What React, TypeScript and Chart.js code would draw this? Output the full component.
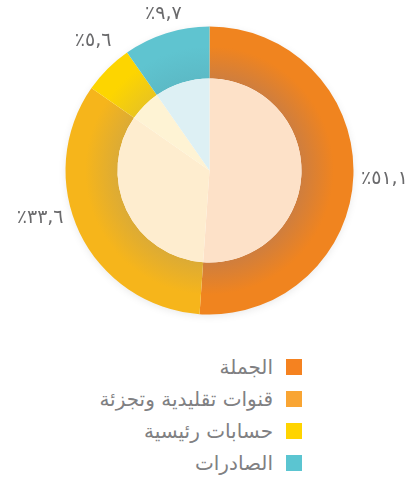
import React, { useEffect, useRef } from "react";
import { Chart, registerables } from "chart.js";

Chart.register(...registerables);

// ---- data ----
const categories = ["الجملة", "قنوات تقليدية وتجزئة", "حسابات رئيسية", "الصادرات"];
const shares = [51.1, 33.6, 5.6, 9.7];
const shareLabels = ["٪٥١,١", "٪٣٣,٦", "٪٥,٦", "٪٩,٧"];

// ---- styles ----
const legendColors = ["#F58220", "#F9A533", "#FFD400", "#5BC5D1"];
const ringColors = ["#F0841F", "#F6B51B", "#FDD500", "#5FC4D0"];
const ringShade = ["#CF7E3E", "#DCAB35", "#EAC51E", "#5CBAC6"];
const innerColors = ["#FDE1C8", "#FEEDCF", "#FEF3D4", "#DDF0F4"];
const labelNudge: [number, number][] = [
  [9, 2.5],
  [-19.6, -24.4],
  [1, -12.3],
  [3.6, 1.6],
];

const ringGradient = (ctx: any) => {
  const chart = ctx.chart;
  const area = chart.chartArea;
  const i = ctx.dataIndex;
  if (!area) return ringColors[i];
  const ctrl: any = chart.getDatasetMeta(0).controller;
  const inner = ctrl && ctrl.innerRadius ? ctrl.innerRadius : 92;
  const outer = ctrl && ctrl.outerRadius ? ctrl.outerRadius : 144;
  const cx = (area.left + area.right) / 2;
  const cy = (area.top + area.bottom) / 2;
  const g = chart.ctx.createRadialGradient(cx, cy, inner, cx, cy, outer);
  g.addColorStop(0, ringShade[i]);
  g.addColorStop(0.62, ringColors[i]);
  g.addColorStop(1, ringColors[i]);
  return g;
};

const haloPlugin = {
  id: "halo",
  beforeDatasetsDraw(chart: any) {
    const meta = chart.getDatasetMeta(0);
    const arc = meta.data[0];
    if (!arc) return;
    const { x, y, outerRadius } = arc.getProps(["x", "y", "outerRadius"], true);
    const c = chart.ctx;
    c.save();
    c.shadowColor = "rgba(0,0,0,0.10)";
    c.shadowBlur = 8;
    c.shadowOffsetY = 2;
    c.fillStyle = "#ffffff";
    c.beginPath();
    c.arc(x, y, outerRadius - 1, 0, Math.PI * 2);
    c.fill();
    c.restore();
  },
};

const labelPlugin = {
  id: "shareLabels",
  afterDatasetsDraw(chart: any) {
    const meta = chart.getDatasetMeta(0);
    const c = chart.ctx;
    c.save();
    c.font = "19px 'DejaVu Sans', sans-serif";
    c.fillStyle = "#6A6A6C";
    c.textAlign = "center";
    c.textBaseline = "middle";
    c.direction = "ltr";
    meta.data.forEach((arc: any, i: number) => {
      const { x, y, startAngle, endAngle, outerRadius } = arc.getProps(
        ["x", "y", "startAngle", "endAngle", "outerRadius"],
        true
      );
      const mid = (startAngle + endAngle) / 2;
      const r = outerRadius + 22;
      const px = x + Math.cos(mid) * r + labelNudge[i][0];
      const py = y + Math.sin(mid) * r + labelNudge[i][1];
      c.fillText(shareLabels[i], px, py);
    });
    c.restore();
  },
};

export default function App() {
  const ref = useRef<HTMLCanvasElement | null>(null);

  useEffect(() => {
    if (!ref.current) return;
    const chart = new Chart(ref.current, {
      type: "doughnut",
      data: {
        labels: categories,
        datasets: [
          {
            data: shares,
            backgroundColor: ringGradient as any,
            borderWidth: 0,
            weight: 52,
            order: 1,
          } as any,
          {
            data: shares,
            backgroundColor: innerColors,
            borderWidth: 0,
            weight: 92,
            order: 0,
          } as any,
        ],
      },
      options: {
        responsive: false,
        animation: false,
        cutout: 0,
        radius: 144,
        layout: { padding: { left: 10, right: 0, top: 1, bottom: 0 } },
        plugins: {
          legend: { display: false },
          tooltip: { enabled: false },
        },
      } as any,
      plugins: [haloPlugin, labelPlugin],
    });
    return () => chart.destroy();
  }, []);

  return (
    <div style={{ position: "absolute", left: 0, top: 0, width: 409, height: 479, overflow: "hidden" }}>
      <canvas ref={ref} width={409} height={340} style={{ display: "block" }} />
      <div
        style={{
          position: "absolute",
          left: 0,
          top: 359,
          width: 302,
          display: "flex",
          flexDirection: "column",
          alignItems: "flex-end",
        }}
      >
        {categories.map((name, i) => (
          <div
            key={name}
            style={{
              display: "flex",
              alignItems: "center",
              height: 16,
              marginBottom: 16,
            }}
          >
            <span
              style={{
                direction: "rtl",
                fontFamily: "'DejaVu Sans', sans-serif",
                fontSize: 20,
                color: "#808082",
                marginRight: 13,
                whiteSpace: "nowrap",
                lineHeight: "16px",
              }}
            >
              {name}
            </span>
            <span
              style={{
                display: "inline-block",
                width: 16,
                height: 16,
                background: legendColors[i],
              }}
            />
          </div>
        ))}
      </div>
    </div>
  );
}
